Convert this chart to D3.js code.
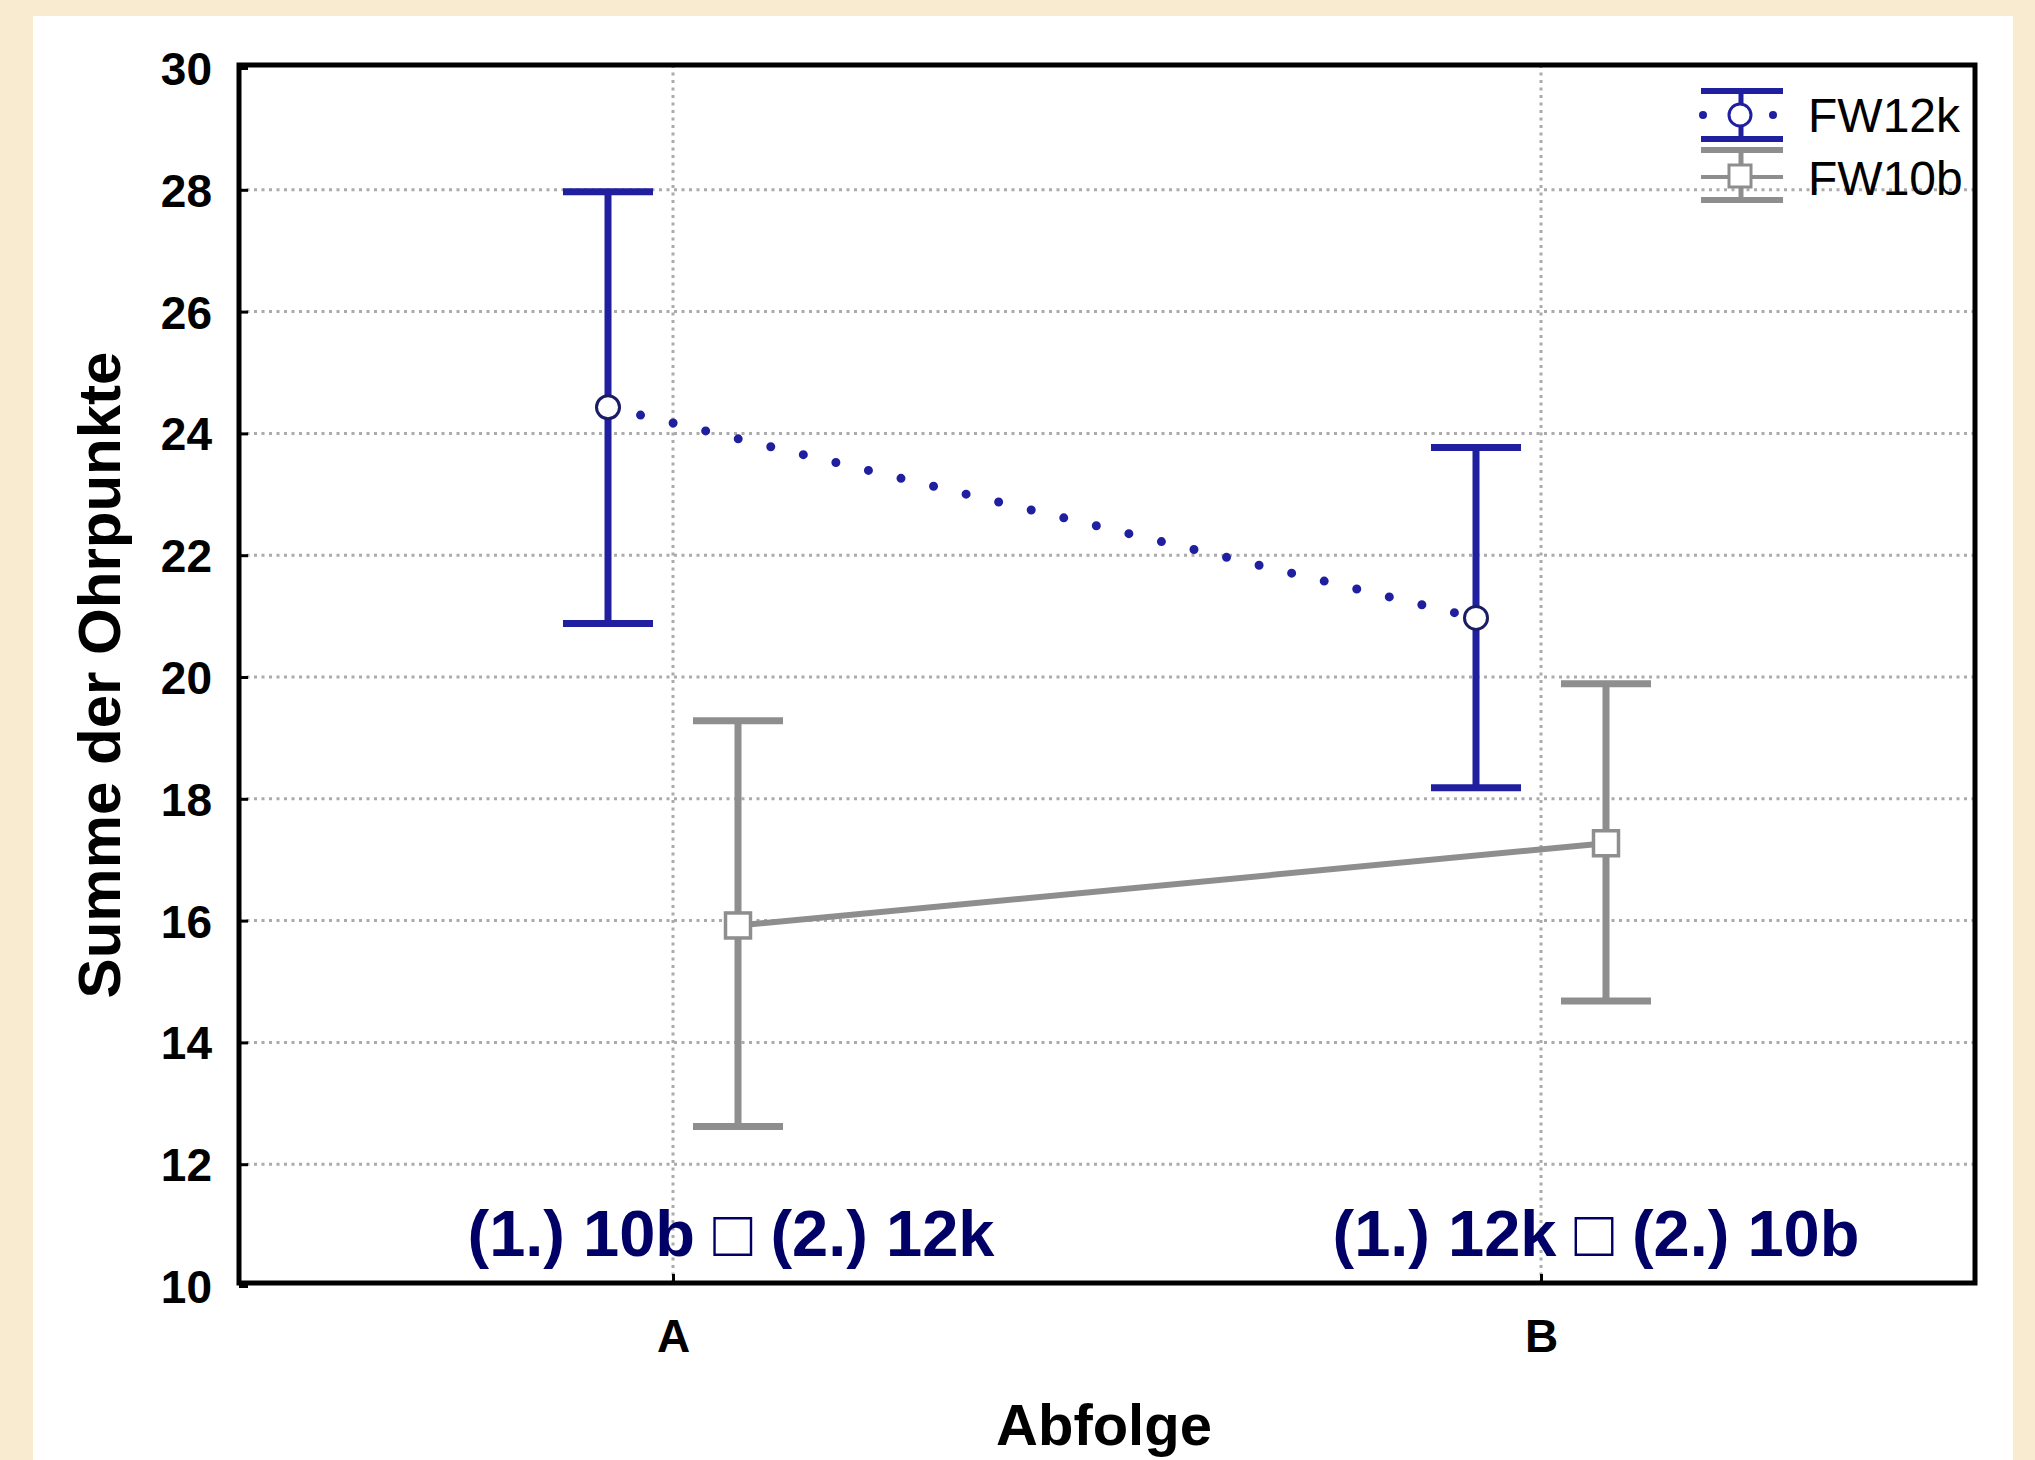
<!DOCTYPE html>
<html>
<head>
<meta charset="utf-8">
<script src="https://cdn.jsdelivr.net/npm/d3@7"></script>
<style>
  html, body { margin: 0; padding: 0; background: #f8ebcf; }
  svg { display: block; }
</style>
</head>
<body>
<script>
// ---- data ----
const categories = ["A", "B"];
const seriesNames = ["FW12k", "FW10b"];
const fw12kMean  = [24.43, 20.97];
const fw12kUpper = [27.97, 23.77];
const fw12kLower = [20.88, 18.18];
const fw10bMean  = [15.92, 17.27];
const fw10bUpper = [19.28, 19.89];
const fw10bLower = [12.62, 14.68];
const yTicks = [10, 12, 14, 16, 18, 20, 22, 24, 26, 28, 30];
const groupLabels = ["(1.) 10b \u25A1 (2.) 12k", "(1.) 12k \u25A1 (2.) 10b"];
const xTitle = "Abfolge";
const yTitle = "Summe der Ohrpunkte";

const W = 2035, H = 1460;
const frame = { left: 239, right: 1975, top: 65, bottom: 1283 };
const BLUE = "#1f1f9f", GREY = "#8e8e8e", NAVY = "#000066";
const FONT = "Liberation Sans, Arial, sans-serif";

const svg = d3.select("body").append("svg").attr("width", W).attr("height", H);
svg.append("rect").attr("x", 0).attr("y", 0).attr("width", W).attr("height", H).attr("fill", "#f8ebcf");
svg.append("rect").attr("x", 33).attr("y", 16).attr("width", 1980).attr("height", H - 16).attr("fill", "#ffffff");

const x = d3.scalePoint().domain(categories).range([frame.left, frame.right]).padding(0.5);
const dodge = d3.scalePoint().domain(seriesNames).range([-65, 65]);
const y = d3.scaleLinear().domain([10, 30]).range([1286, 68]);

// grid
const grid = svg.append("g");
grid.selectAll("line.h").data(yTicks.filter(t => t > 10 && t < 30)).join("line")
  .attr("x1", frame.left).attr("x2", frame.right)
  .attr("y1", d => y(d)).attr("y2", d => y(d))
  .attr("stroke", "#ababab").attr("stroke-width", 3).attr("stroke-dasharray", "3 4.5");
grid.selectAll("line.v").data(categories).join("line")
  .attr("x1", d => x(d)).attr("x2", d => x(d))
  .attr("y1", frame.top).attr("y2", frame.bottom)
  .attr("stroke", "#ababab").attr("stroke-width", 3).attr("stroke-dasharray", "3 4.5");

// axes (ticks inward)
const yAxis = svg.append("g").attr("transform", `translate(${frame.left},0)`)
  .call(d3.axisLeft(y).tickValues(yTicks).tickSize(-9).tickPadding(27));
yAxis.select(".domain").remove();
yAxis.selectAll(".tick line").attr("stroke", "#000").attr("stroke-width", 3);
yAxis.selectAll(".tick text").attr("font-family", FONT).attr("font-weight", "bold")
  .attr("font-size", 46).attr("fill", "#000").attr("dy", "0.36em");

const xAxis = svg.append("g").attr("transform", `translate(0,${frame.bottom})`)
  .call(d3.axisBottom(x).tickSize(-9).tickPadding(36));
xAxis.select(".domain").remove();
xAxis.selectAll(".tick line").attr("stroke", "#000").attr("stroke-width", 3);
xAxis.selectAll(".tick text").attr("font-family", FONT).attr("font-weight", "bold")
  .attr("font-size", 46).attr("fill", "#000");

// frame
svg.append("rect").attr("x", frame.left).attr("y", frame.top)
  .attr("width", frame.right - frame.left).attr("height", frame.bottom - frame.top)
  .attr("fill", "none").attr("stroke", "#000").attr("stroke-width", 5);

// group annotation labels
svg.selectAll("text.grp").data(categories).join("text")
  .attr("class", "grp")
  .attr("x", (d, i) => x(d) + (i === 0 ? 58 : 55))
  .attr("y", 1256)
  .attr("text-anchor", "middle")
  .attr("font-family", FONT)
  .attr("font-weight", "bold").attr("font-size", 65).attr("fill", NAVY)
  .text((d, i) => groupLabels[i]);

// series
const series = [
  { name: "FW12k", mean: fw12kMean, up: fw12kUpper, lo: fw12kLower, color: BLUE },
  { name: "FW10b", mean: fw10bMean, up: fw10bUpper, lo: fw10bLower, color: GREY }
];
const px = (s, i) => x(categories[i]) + dodge(s.name);

// connecting lines
const line = d3.line().x(d => d[0]).y(d => d[1]);
series.forEach(s => {
  const pts = categories.map((c, i) => [px(s, i), y(s.mean[i])]);
  const p = svg.append("path").attr("d", line(pts)).attr("fill", "none").attr("stroke", s.color);
  if (s.name === "FW12k") {
    p.attr("stroke-width", 9).attr("stroke-linecap", "round").attr("stroke-dasharray", "0 33.5");
  } else {
    p.attr("stroke-width", 6);
  }
});

// error bars
series.forEach(s => {
  const g = svg.append("g");
  categories.forEach((c, i) => {
    const cx = px(s, i);
    g.append("line").attr("x1", cx).attr("x2", cx).attr("y1", y(s.up[i])).attr("y2", y(s.lo[i]))
      .attr("stroke", s.color).attr("stroke-width", 7);
    [s.up[i], s.lo[i]].forEach(v => {
      g.append("line").attr("x1", cx - 45).attr("x2", cx + 45).attr("y1", y(v)).attr("y2", y(v))
        .attr("stroke", s.color).attr("stroke-width", 7);
    });
  });
});

// markers
categories.forEach((c, i) => {
  const s0 = series[0];
  svg.append("circle").attr("cx", px(s0, i)).attr("cy", y(s0.mean[i])).attr("r", 11.5)
    .attr("fill", "#fff").attr("stroke", "#1c1c66").attr("stroke-width", 3);
  const s1 = series[1];
  svg.append("rect").attr("x", px(s1, i) - 12.5).attr("y", y(s1.mean[i]) - 12.5)
    .attr("width", 25).attr("height", 25)
    .attr("fill", "#fff").attr("stroke", GREY).attr("stroke-width", 3.5);
});

// legend
const lg = svg.append("g");
// FW12k symbol
lg.append("line").attr("x1", 1741).attr("x2", 1741).attr("y1", 91).attr("y2", 139).attr("stroke", BLUE).attr("stroke-width", 5);
[91, 139].forEach(yy => lg.append("line").attr("x1", 1701).attr("x2", 1783).attr("y1", yy).attr("y2", yy).attr("stroke", BLUE).attr("stroke-width", 6));
[1703, 1773].forEach(xx => lg.append("circle").attr("cx", xx).attr("cy", 115).attr("r", 4).attr("fill", BLUE));
lg.append("circle").attr("cx", 1740).attr("cy", 115).attr("r", 11).attr("fill", "#fff").attr("stroke", BLUE).attr("stroke-width", 3);
// FW10b symbol
lg.append("line").attr("x1", 1741).attr("x2", 1741).attr("y1", 150).attr("y2", 200).attr("stroke", GREY).attr("stroke-width", 5);
[150, 200].forEach(yy => lg.append("line").attr("x1", 1701).attr("x2", 1783).attr("y1", yy).attr("y2", yy).attr("stroke", GREY).attr("stroke-width", 6));
lg.append("line").attr("x1", 1701).attr("x2", 1783).attr("y1", 177).attr("y2", 177).attr("stroke", GREY).attr("stroke-width", 4);
lg.append("rect").attr("x", 1729).attr("y", 165).attr("width", 22).attr("height", 22).attr("fill", "#fff").attr("stroke", GREY).attr("stroke-width", 3);
lg.selectAll("text").data(seriesNames).join("text")
  .attr("x", 1808).attr("y", (d, i) => i === 0 ? 132 : 195)
  .attr("font-family", FONT).attr("font-size", 48).attr("fill", "#000")
  .text(d => d);

// axis titles
svg.append("text").attr("x", 1104).attr("y", 1445).attr("text-anchor", "middle")
  .attr("font-family", FONT).attr("font-weight", "bold")
  .attr("font-size", 58).attr("fill", "#000").text(xTitle);
svg.append("text").attr("transform", "translate(120,675) rotate(-90)").attr("text-anchor", "middle")
  .attr("font-family", FONT).attr("font-weight", "bold")
  .attr("font-size", 60).attr("fill", "#000").text(yTitle);
</script>
</body>
</html>
